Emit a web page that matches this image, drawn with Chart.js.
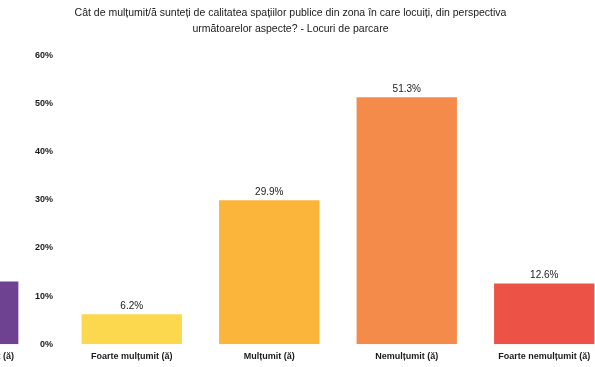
<!DOCTYPE html>
<html>
<head>
<meta charset="utf-8">
<script src="https://cdn.jsdelivr.net/npm/chart.js@4"></script>
<style>
    html, body { margin: 0; padding: 0; background: #fff; }
    body { width: 595px; height: 367px; overflow: hidden; position: relative; }
    #mainBox { position: absolute; left: -32px; top: 0; width: 646px; height: 367px; }
    #prevBox { position: absolute; left: -101px; top: 0; width: 138px; height: 367px; }
</style>
</head>
<body>
<div id="prevBox"><canvas id="prevChart"></canvas></div>
<div id="mainBox"><canvas id="mainChart"></canvas></div>
<script>
        const titleLines = [
            'Cât de mulțumit/ă sunteți de calitatea spațiilor publice din zona în care locuiți, din perspectiva',
            'următoarelor aspecte? - Locuri de parcare'
        ];
        const categories = ['Foarte mulțumit (ă)', 'Mulțumit (ă)', 'Nemulțumit (ă)', 'Foarte nemulțumit (ă)'];
        const values = [6.2, 29.9, 51.3, 12.6];
        // last bar of the neighbouring chart, cut off at the left edge
        const prevCategories = ['Foarte nemulțumit (ă)'];
        const prevValues = [13.0];
        const yMax = 60;
        const yStep = 10;

        const barColors = ['#FCD84F', '#FBB53A', '#F58B4B', '#EC5346'];
        const prevColors = ['#6E4191'];

        const narrow = "'Liberation Sans Narrow', 'Arial Narrow', 'Liberation Sans', Arial, sans-serif";

        // value labels above bars
        const barLabels = {
            id: 'barLabels',
            afterDatasetsDraw(chart) {
                const ctx = chart.ctx;
                const meta = chart.getDatasetMeta(0);
                ctx.save();
                ctx.font = '10px ' + narrow;
                ctx.fillStyle = '#1a1a1a';
                ctx.textAlign = 'center';
                ctx.textBaseline = 'bottom';
                meta.data.forEach((bar, i) => {
                    const v = chart.data.datasets[0].data[i];
                    ctx.fillText(v.toFixed(1) + '%', bar.x, bar.y - 3);
                });
                ctx.restore();
            }
        };

        function xAxis() {
            return {
                grid: { display: false, drawTicks: false },
                border: { display: false },
                ticks: {
                    color: '#1a1a1a',
                    padding: 7,
                    maxRotation: 0,
                    autoSkip: false,
                    font: { family: narrow, size: 9, weight: 'bold' }
                }
            };
        }

        new Chart(document.getElementById('mainChart'), {
            type: 'bar',
            data: {
                labels: categories,
                datasets: [{
                    data: values,
                    backgroundColor: barColors,
                    borderWidth: 0,
                    categoryPercentage: 1,
                    barPercentage: 0.73
                }]
            },
            options: {
                responsive: true,
                maintainAspectRatio: false,
                animation: false,
                layout: { padding: { left: 0, right: 1, top: 5, bottom: -2 } },
                plugins: {
                    legend: { display: false },
                    tooltip: { enabled: false },
                    title: {
                        display: true,
                        text: titleLines,
                        color: '#1a1a1a',
                        font: { family: narrow, size: 10.5, weight: 'normal', lineHeight: 1.5 },
                        padding: { top: 0, bottom: 19 }
                    }
                },
                scales: {
                    x: xAxis(),
                    y: {
                        min: 0,
                        max: yMax,
                        grid: { display: false, drawTicks: false },
                        border: { display: false },
                        afterFit(scale) { scale.width = 95; },
                        ticks: {
                            stepSize: yStep,
                            padding: 10,
                            color: '#1a1a1a',
                            font: { family: narrow, size: 9, weight: 'bold' },
                            callback: v => v + '%'
                        }
                    }
                }
            },
            plugins: [barLabels]
        });

        new Chart(document.getElementById('prevChart'), {
            type: 'bar',
            data: {
                labels: prevCategories,
                datasets: [{
                    data: prevValues,
                    backgroundColor: prevColors,
                    borderWidth: 0,
                    categoryPercentage: 1,
                    barPercentage: 0.73
                }]
            },
            options: {
                responsive: true,
                maintainAspectRatio: false,
                animation: false,
                layout: { padding: { left: 0, right: 0, top: 55, bottom: -2 } },
                plugins: { legend: { display: false }, tooltip: { enabled: false } },
                scales: {
                    x: xAxis(),
                    y: { display: false, min: 0, max: yMax }
                }
            }
        });
</script>
</body>
</html>
